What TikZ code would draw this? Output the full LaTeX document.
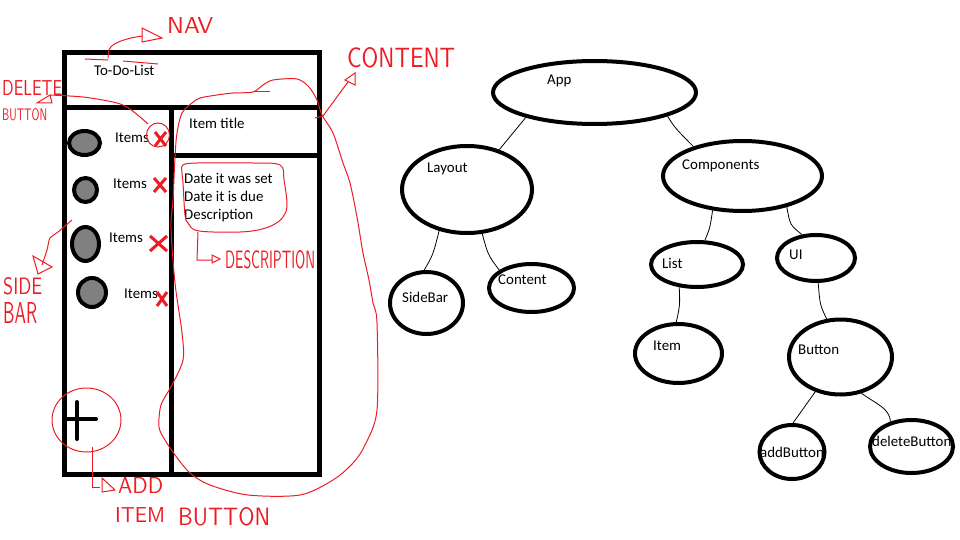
\documentclass[tikz,border=0pt]{standalone}
\usepackage{fontspec}
\setmainfont{Carlito}
\usetikzlibrary{shapes.geometric}
\definecolor{pred}{RGB}{237,28,36}
\definecolor{dotgray}{RGB}{128,128,128}
\newcommand\hw[3]{\resizebox{#1pt}{#2pt}{\sffamily #3}}
\begin{document}
\begin{tikzpicture}[x=1pt,y=-1pt,
  wire/.style={line width=5pt},
  tnode/.style={draw, ellipse, line width=4pt, inner sep=0pt},
  lbl/.style={font=\fontsize{14.9}{17}\selectfont, inner sep=0pt, anchor=west, text height=11pt, text depth=1pt},
  dotty/.style={draw, line width=4pt, fill=dotgray},
  conn/.style={line width=0.8pt},
  ann/.style={draw=pred, line width=1pt},
  xmark/.style={draw=pred, line width=3pt},
  plus/.style={line width=4pt, line cap=round},
  hand/.style={text=pred, inner sep=0pt, anchor=north west}
]
\useasboundingbox (0,0) rectangle (960,540);

% ---------------- wireframe ----------------
\draw[wire] (64,52.5) rectangle (319,474.5);
\draw[wire] (64,107.5) -- (319,107.5);
\draw[wire] (171.7,107.5) -- (171.7,474.5);
\draw[wire] (171.7,155.3) -- (319,155.3);

\draw[dotty] (84.5,143) ellipse [x radius=15.5, y radius=12];
\draw[dotty] (85.5,190) ellipse [x radius=11.5, y radius=12];
\draw[dotty] (85.5,244) ellipse [x radius=13.5, y radius=17];
\draw[dotty] (92,292.5) ellipse [x radius=14, y radius=14.5];

\draw[plus] (77,402) -- (77,439);
\draw[plus] (66,419) -- (96,419);

\node[lbl] (todo) at (94,71) {To-Do-List};
\node[lbl] (it1) at (115,137.5) {Items};
\node[lbl] (it2) at (113,184) {Items};
\node[lbl] (it3) at (109,237) {Items};
\node[lbl] (it4) at (124,293) {Items};
\node[lbl] (ititle) at (189,124) {Item title};
\node[lbl] (d1) at (184,178) {Date it was set};
\node[lbl] (d2) at (184,196) {Date it is due};
\node[lbl] (d3) at (184,214) {Description};

% red delete crosses
\draw[xmark] (155,132) -- (166,146) (166,132) -- (155,146);
\draw[xmark] (154,178) -- (166,192) (166,178) -- (154,192);
\draw[xmark] (150,236) -- (167,251) (167,236) -- (150,251);
\draw[xmark] (157,292) -- (167,306) (167,292) -- (157,306);

% ---------------- red annotations ----------------
% NAV
\draw[ann] (85,59) -- (108,60);
\draw[ann] (123,61) -- (158,64);
\draw[ann] plot[smooth] coordinates {(108,58) (109,50) (113,45) (121,41) (131,38) (142,36)};
\draw[ann] (142,28) -- (142,42) -- (162,38) -- cycle;
\node[hand] (navl) at (167,17) {\hw{46}{16}{NAV}};

% CONTENT
\draw[ann] (270,92) -- (253,92);
\draw[ann] plot[smooth cycle, tension=0.5] coordinates {
 (253,92) (233,93) (217,95) (200,98) (192,103) (182,113) (177,133) (175,157)
 (173,200) (171,228) (175,283) (182,333) (183,360) (172,385) (161,405) (159,427)
 (165,440) (175,455) (190,473) (210,485) (248,495) (300,495) (333,480) (353,463)
 (365,445) (377,410) (377,323) (373,303) (369,280) (363,253) (357,217) (350,183)
 (343,163) (333,133) (322,115) (317,100) (309,87) (297,79) (273,80) (263,85)};
\draw[ann] (315,118) -- (323,116) -- (342,90) -- (348,82);
\draw[ann] (345,80) -- (355,73) -- (355,85) -- cycle;
\node[hand] (contl) at (347,47) {\hw{108}{20}{CONTENT}};

% DELETE BUTTON
\draw[ann] (158,135) ellipse [x radius=11.5, y radius=12];
\draw[ann] plot[smooth] coordinates {(50,95) (83,97) (113,102) (127,107) (140,117) (148,124)};
\draw[ann] (50,95) -- (37,103) -- (52,103) -- cycle;
\node[hand] (dell) at (2,80) {\hw{60}{15}{DELETE}};
\node[hand] (delb) at (2,108) {\hw{45}{12}{BUTTON}};

% SIDE BAR
\draw[ann] plot[smooth] coordinates {(72,220) (58,232) (50,238) (47,250) (42,265)};
\draw[ann] (33,256) -- (52,267) -- (38,274) -- cycle;
\node[hand] (sidel) at (3,277) {\hw{39}{17}{SIDE}};
\node[hand] (barl) at (3,302) {\hw{34}{21}{BAR}};

% DESCRIPTION
\draw[ann] plot[smooth cycle, tension=0.6] coordinates {
 (183,165) (197,163) (233,163) (253,163) (280,165) (284,180) (287,205)
 (283,217) (273,225) (258,230) (240,232) (213,232) (195,230) (188,223)
 (185,215) (183,183) (182,173)};
\draw[ann] (198,232) -- (197,260) -- (212,260);
\draw[ann] (212,255) -- (220,259) -- (212,263) -- cycle;
\node[hand] (descl) at (225,250) {\hw{90}{18}{DESCRIPTION}};

% ADD ITEM BUTTON
\draw[ann] (86.5,420) ellipse [x radius=34.5, y radius=32];
\draw[ann] (92,447) -- (92,487) -- (100,487);
\draw[ann] (102,478) -- (115,490) -- (102,492) -- cycle;
\node[hand] (addl) at (118,477) {\hw{45}{16}{ADD}};
\node[hand] (iteml) at (115,507) {\hw{50}{15}{ITEM}};
\node[hand] (butl) at (178,507) {\hw{92}{18}{BUTTON}};

% ---------------- component tree ----------------
\node[tnode, minimum width=203pt, minimum height=63pt] (App) at (594.5,92.5) {};
\node[tnode, minimum width=130pt, minimum height=87pt] (Layout) at (467,189.5) {};
\node[tnode, minimum width=159pt, minimum height=70pt] (Components) at (742.5,176) {};
\node[tnode, minimum width=73pt, minimum height=62pt] (SideBar) at (426.5,303) {};
\node[tnode, minimum width=85pt, minimum height=48pt] (Content) at (531.5,288) {};
\node[tnode, minimum width=92pt, minimum height=45pt] (List) at (697,264.5) {};
\node[tnode, minimum width=78pt, minimum height=46pt] (UI) at (816,258) {};
\node[tnode, minimum width=87pt, minimum height=59pt] (Item) at (678.5,353.5) {};
\node[tnode, minimum width=103pt, minimum height=75pt] (Button) at (840.5,357) {};
\node[tnode, minimum width=65pt, minimum height=54pt] (addButton) at (792,452) {};
\node[tnode, minimum width=83pt, minimum height=53pt] (deleteButton) at (911.5,446.5) {};

\node[lbl] (tApp) at (547,80) {App};
\node[lbl] (tLayout) at (427,167) {Layout};
\node[lbl] (tComponents) at (682,165) {Components};
\node[lbl] (tSideBar) at (402,297) {SideBar};
\node[lbl] (tContent) at (498,279) {Content};
\node[lbl] (tList) at (662,263) {List};
\node[lbl] (tUI) at (789,254) {UI};
\node[lbl] (tItem) at (653,345) {Item};
\node[lbl] (tButton) at (798,349) {Button};
\node[lbl] (taddButton) at (760,452) {addButton};
\node[lbl] (tdeleteButton) at (872,441) {deleteButton};

\draw[conn] (App.200) -- (Layout.51);
\draw[conn] (App.342) .. controls (675,128) .. (Components.149);
\draw[conn] (Layout.236) .. controls (433,255) .. (SideBar.94);
\draw[conn] (Layout.289) .. controls (488,255) .. (Content.151);
\draw[conn] (Components.229) .. controls (710,228) .. (List.72);
\draw[conn] (Components.325) .. controls (790,225) .. (UI.121);
\draw[conn] (List.232) .. controls (680,305) .. (Item.94);
\draw[conn] (UI.275) .. controls (820,305) .. (Button.110);
\draw[conn] (Button.234) -- (addButton.88);
\draw[conn] (Button.300) .. controls (878,405) and (889,408) .. (deleteButton.130);
\end{tikzpicture}
\end{document}
